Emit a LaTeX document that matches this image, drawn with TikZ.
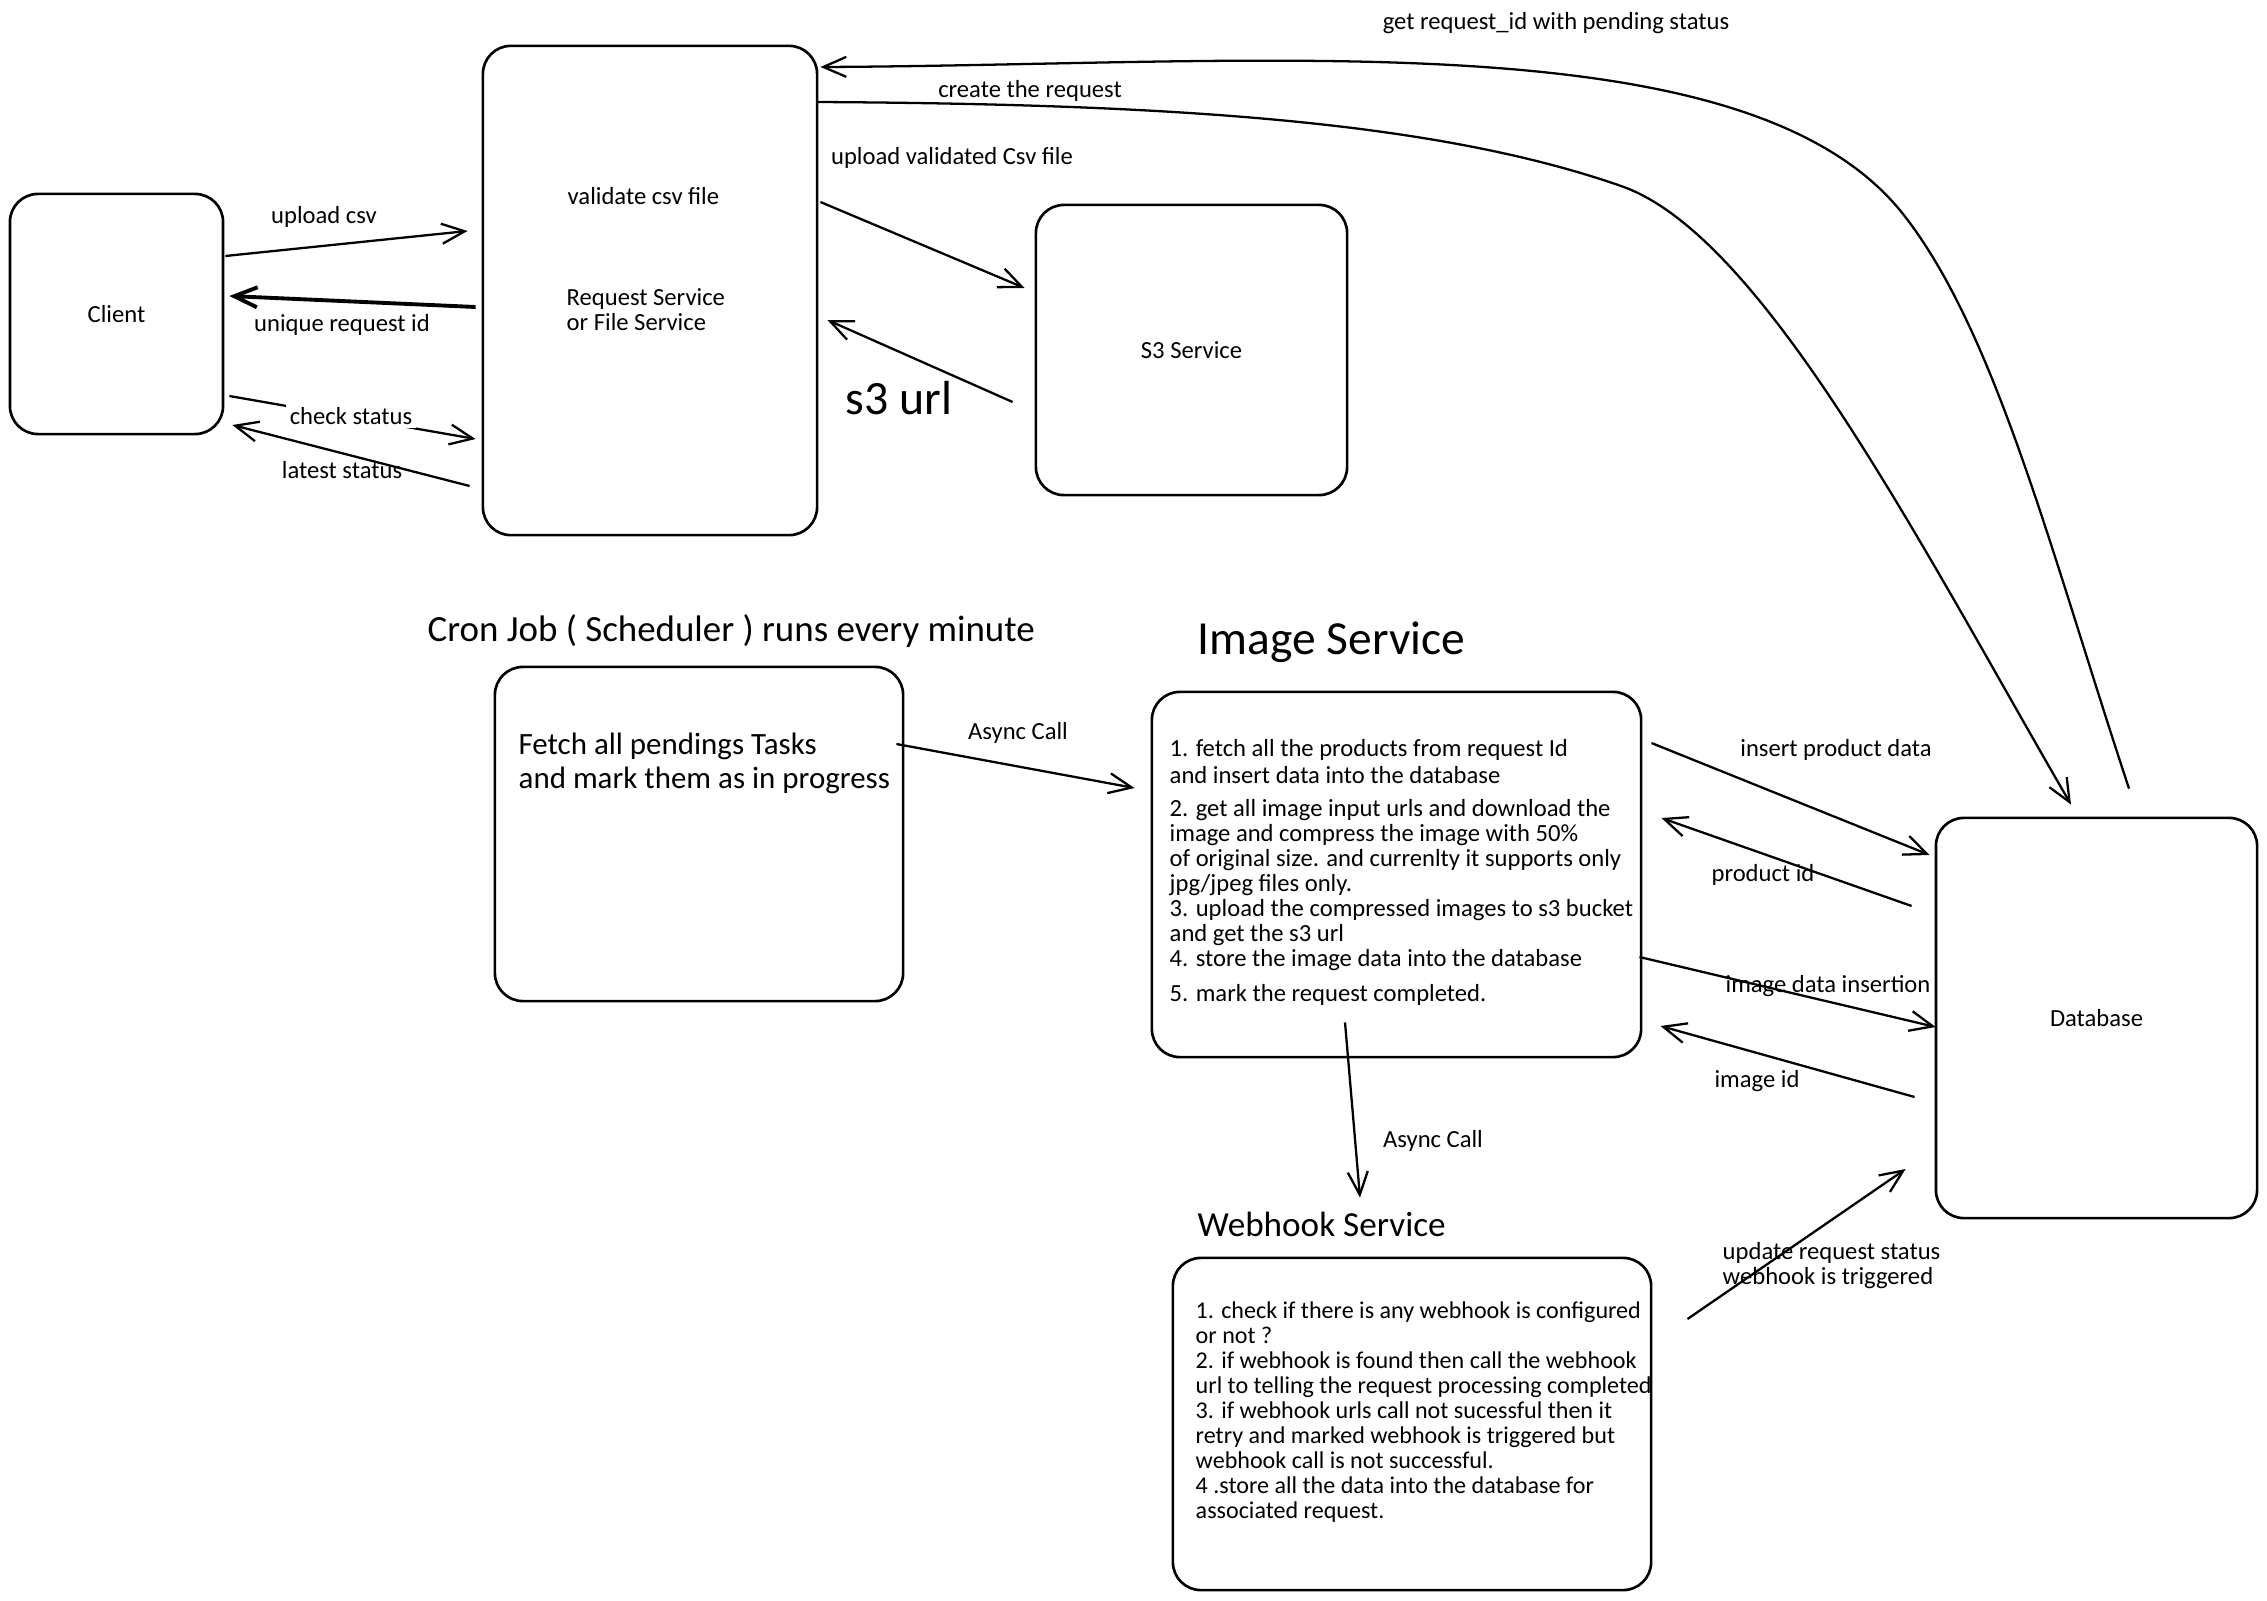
\documentclass[tikz,border=0pt]{standalone}
\usepackage{fontspec}
\setmainfont{Carlito}
\usetikzlibrary{arrows.meta,calc}

\tikzset{
  box/.style={draw, rounded corners=2.8mm, line width=0.75pt, inner sep=0pt,
    font=\fontsize{7pt}{7.1pt}\selectfont},
  flow/.style={line width=0.65pt, -{Straight Barb[length=2.3mm,width=2mm]}},
  boldflow/.style={flow, line width=1.1pt},
  lbl/.style={inner sep=0pt, font=\fontsize{7pt}{7.1pt}\selectfont},
  body/.style={inner sep=0pt, align=left, anchor=base west,
    font=\fontsize{7pt}{7.1pt}\selectfont},
  title/.style={inner sep=0pt, anchor=base west},
}

\begin{document}
\begin{tikzpicture}[x=0.01cm,y=-0.01cm]
    \useasboundingbox (0,0) rectangle (2267,1600);
    %% boxes
    \node[box, minimum width=2.13cm, minimum height=2.40cm] (client) at (116.5,314) {Client};
    \node[box, minimum width=3.34cm, minimum height=4.89cm] (reqsvc) at (650,290.5) {};
    \node[box, minimum width=3.11cm, minimum height=2.90cm] (s3svc) at (1191.5,350) {S3 Service};
    \node[box, minimum width=4.08cm, minimum height=3.34cm] (cron) at (699,834) {};
    \node[box, minimum width=4.89cm, minimum height=3.65cm] (imgsvc) at (1396.5,874.5) {};
    \node[box, minimum width=3.21cm, minimum height=4.00cm] (db) at (2096.5,1018) {Database};
    \node[box, minimum width=4.78cm, minimum height=3.32cm] (webhook) at (1412,1424) {};
    %% texts in the boxes (base = last line)
    \node[body] (reqtxtA) at (567,205) {validate csv file};
    \node[body] (reqtxtB) at (566,330) {Request Service\\or File Service};
    \node[body, font=\fontsize{8.8pt}{9.4pt}\selectfont] (crontxt) at (518,788)
        {Fetch all pendings Tasks\\and mark them as in progress};
    \node[body] (imgtxt) at (1169,1001) {1. fetch all the products from request Id\\[0.6pt]
        and insert data into the database\\[2.3pt]
        2. get all image input urls and download the\\
        image and compress the image with 50\%\\
        of original size. and currenlty it supports only\\
        jpg/jpeg files only.\\
        3. upload the compressed images to s3 bucket\\
        and get the s3 url\\
        4. store the image data into the database\\[2.8pt]
        5. mark the request completed.};
    \node[body, font=\fontsize{6.85pt}{7.1pt}\selectfont] (hooktxt) at (1195,1518)
        {1. check if there is any webhook is configured\\
        or not ?\\
        2. if webhook is found then call the webhook\\
        url to telling the request processing completed\\
        3. if webhook urls call not sucessful then it\\
        retry and marked webhook is triggered but\\
        webhook call is not successful.\\
        4 .store all the data into the database for\\
        associated request.};
    %% titles
    \node[title, font=\fontsize{10.5pt}{12pt}\selectfont] (crontitle) at (427,641)
        {Cron Job ( Scheduler ) runs every minute};
    \node[title, font=\fontsize{13.5pt}{15pt}\selectfont] (imgtitle) at (1197,654) {Image Service};
    \node[title, font=\fontsize{10pt}{12pt}\selectfont] (hooktitle) at (1197,1236) {Webhook Service};
    %% client <-> request service
    \draw[flow] ($(client.east)+(1,-58)$) -- ($(reqsvc.west)+(-14,-59.5)$);
    \draw[boldflow] ($(reqsvc.west)+(-6,16.5)$) -- ($(client.east)+(5,-18)$);
    \draw[flow] ($(client.east)+(5,82)$) -- ($(reqsvc.west)+(-6,148.5)$);
    \draw[flow] ($(reqsvc.west)+(-12,195.5)$) -- ($(client.east)+(8,111)$);
    %% request service <-> s3
    \draw[flow] ($(reqsvc.east)+(2,-88.5)$) -- ($(s3svc.west)+(-10,-62)$);
    \draw[flow] ($(s3svc.west)+(-22,52)$) -- ($(reqsvc.east)+(9,29.5)$);
    %% request service <-> database
    \coordinate (createA) at ($(reqsvc.east)+(-2,-188.5)$);
    \coordinate (createB) at ($(db.north)+(-25.5,-12)$);
    \coordinate (pendA) at ($(db.north)+(32.5,-28)$);
    \coordinate (pendB) at ($(reqsvc.east)+(2,-223.5)$);
    \draw[flow] (createA) .. controls (1165,104) and (1432,120) .. (1621,186)
        .. controls (1763,235) and (1921,546) .. (createB);
    \draw[flow] (pendA) .. controls (2051,553) and (1996,332) .. (1903,214)
        .. controls (1748,18) and (1269,65) .. (pendB);
    %% cron -> image -> webhook
    \draw[flow] ($(cron.east)+(-8,-90)$) -- ($(imgsvc.west)+(-16,-86.5)$);
    \draw[flow] ($(imgsvc.south)+(-51.5,-36)$) -- ($(webhook.north)+(-52,-59)$);
    %% image service <-> database
    \draw[flow] ($(imgsvc.east)+(9,-131.5)$) -- ($(db.west)+(-5,-163)$);
    \draw[flow] ($(db.west)+(-23,-112)$) -- ($(imgsvc.east)+(19,-56.5)$);
    \draw[flow] ($(imgsvc.east)+(-3,82.5)$) -- ($(db.west)+(1,9)$);
    \draw[flow] ($(db.west)+(-20,79)$) -- ($(imgsvc.east)+(18,151.5)$);
    %% webhook -> database
    \draw[flow] ($(webhook.east)+(35,-105)$) -- ($(db.west)+(-29,151)$);
    %% labels
    \node[lbl] (upcsvlbl) at (324,217) {upload csv};
    \node[lbl] (uidlbl) at (342,325) {unique request id};
    \node[lbl, fill=white, inner sep=1pt] (chklbl) at (351,416) {check status};
    \node[lbl] (latestlbl) at (342,470) {latest status};
    \node[lbl] (upvallbl) at (952,158) {upload validated Csv file};
    \node[lbl, font=\fontsize{13.6pt}{15pt}\selectfont] (s3urllbl) at (899,398) {s3 url};
    \node[lbl] (createlbl) at (1030,91) {create the request};
    \node[lbl] (getlbl) at (1556,23) {get request\_id with pending status};
    \node[lbl] (asynclblA) at (1018,733) {Async Call};
    \node[lbl] (asynclblB) at (1433,1141) {Async Call};
    \node[lbl] (insertlbl) at (1836,750) {insert product data};
    \node[lbl] (pidlbl) at (1763,875) {product id};
    \node[lbl] (imgdatalbl) at (1828,986) {image data insertion};
    \node[lbl] (imgidlbl) at (1757,1081) {image id};
    \node[body] (updlbl) at (1722,1284) {update request status\\webhook is triggered};
\end{tikzpicture}
\end{document}
